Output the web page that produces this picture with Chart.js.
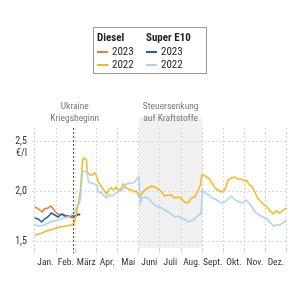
<!DOCTYPE html>
<html>
<head>
<meta charset="utf-8">
<script src="https://cdn.jsdelivr.net/npm/chart.js@4"></script>
<style>
  body { margin: 0; background: #fff; }
  #wrap { position: relative; width: 300px; height: 300px; font-family: "Liberation Sans Narrow", "Roboto Condensed", Roboto, sans-serif; }
  #legend { position: absolute; left: 93px; top: 27px; width: 114px; height: 47px; border: 1px solid #999; box-sizing: border-box; color: #222; font-size: 11px; }
  #legend .col { position: absolute; top: 3px; }
  #legend .head { font-weight: bold; height: 14px; line-height: 14px; }
  #legend .item { height: 13px; line-height: 13px; }
  #legend .swatch { display: inline-block; width: 11px; height: 2px; vertical-align: middle; margin-right: 4px; }
</style>
</head>
<body>
<div id="wrap">
  <canvas id="chart" width="300" height="300"></canvas>
  <div id="legend"></div>
</div>
<script>
// month boundaries (day of year) and labels
const monthStarts = [0, 31, 59, 90, 120, 151, 181, 212, 243, 273, 304, 334, 365];
const monthLabels = ['Jan.', 'Feb.', 'März', 'Apr.', 'Mai', 'Juni', 'Juli', 'Aug.', 'Sept.', 'Okt.', 'Nov.', 'Dez.'];
const yTicks = [1.5, 2.0, 2.5];

// Diesel 2023
const diesel2023Days = [0, 3, 7, 11, 14, 19, 23, 26, 30, 34, 37, 41, 46, 51, 55, 58, 60, 65];
const diesel2023 = [1.84, 1.83, 1.81, 1.79, 1.82, 1.83, 1.85, 1.83, 1.79, 1.77, 1.76, 1.77, 1.75, 1.74, 1.73, 1.74, 1.75, 1.77];

// Diesel 2022
const diesel2022Days = [0, 7, 17, 27, 36, 46, 53, 57, 60, 64, 66, 69, 71, 75, 76, 80, 84, 87, 89, 92, 97, 101, 104, 107, 111, 115, 118, 121, 125, 128, 131, 135, 140, 144, 147, 150, 152, 156, 159, 164, 169, 174, 179, 184, 188, 193, 198, 203, 208, 212, 217, 222, 227, 232, 237, 240, 242, 245, 249, 252, 257, 261, 266, 270, 275, 278, 280, 285, 290, 294, 299, 304, 307, 311, 314, 319, 323, 328, 333, 337, 340, 345, 350, 355, 360, 365];
const diesel2022 = [1.56, 1.57, 1.60, 1.62, 1.64, 1.65, 1.66, 1.68, 1.76, 1.91, 1.99, 2.29, 2.33, 2.31, 2.19, 2.16, 2.16, 2.18, 2.16, 2.09, 2.04, 2.00, 1.97, 2.01, 2.03, 2.01, 2.04, 2.01, 2.02, 2.07, 2.04, 2.02, 2.01, 1.99, 2.00, 1.96, 1.94, 1.98, 2.01, 2.03, 2.05, 2.04, 2.02, 1.99, 1.95, 1.96, 1.96, 1.93, 1.94, 1.93, 1.89, 1.88, 1.93, 1.94, 2.01, 2.06, 2.16, 2.16, 2.14, 2.13, 2.08, 2.03, 2.01, 1.99, 2.01, 2.06, 2.11, 2.13, 2.14, 2.12, 2.12, 2.10, 2.11, 2.06, 2.05, 1.99, 1.93, 1.89, 1.86, 1.84, 1.81, 1.77, 1.80, 1.78, 1.81, 1.83];

// Super E10 2023
const e10_2023Days = [0, 5, 10, 14, 19, 24, 29, 34, 39, 43, 48, 53, 58, 63, 66];
const e10_2023 = [1.73, 1.72, 1.69, 1.72, 1.74, 1.78, 1.76, 1.74, 1.77, 1.75, 1.75, 1.75, 1.75, 1.77, 1.76];

// Super E10 2022
const e10_2022Days = [0, 7, 14, 19, 27, 34, 41, 48, 53, 57, 60, 65, 67, 69, 72, 76, 78, 82, 87, 90, 92, 97, 101, 104, 108, 112, 118, 123, 128, 133, 138, 143, 145, 150, 151, 153, 155, 159, 164, 169, 174, 179, 184, 188, 193, 198, 203, 208, 212, 217, 222, 227, 232, 237, 241, 243, 245, 252, 257, 261, 266, 270, 275, 280, 285, 289, 293, 297, 302, 306, 309, 313, 319, 323, 328, 333, 337, 342, 346, 350, 355, 360, 365];
const e10_2022 = [1.66, 1.65, 1.66, 1.68, 1.70, 1.71, 1.73, 1.74, 1.76, 1.78, 1.83, 1.88, 1.98, 2.19, 2.20, 2.18, 2.09, 2.08, 2.07, 2.06, 1.99, 1.98, 1.95, 1.93, 1.96, 1.95, 1.98, 2.00, 2.02, 2.07, 2.08, 2.08, 2.09, 2.14, 2.10, 1.88, 1.93, 1.94, 1.93, 1.89, 1.86, 1.84, 1.83, 1.81, 1.79, 1.77, 1.74, 1.75, 1.73, 1.72, 1.69, 1.70, 1.72, 1.76, 1.77, 2.01, 1.99, 1.96, 1.93, 1.92, 1.90, 1.88, 1.89, 1.92, 1.95, 1.92, 1.90, 1.89, 1.88, 1.91, 1.89, 1.86, 1.79, 1.77, 1.75, 1.73, 1.72, 1.68, 1.65, 1.66, 1.66, 1.68, 1.71];

const warDay = 55;
const taxCutStart = 151, taxCutEnd = 243;

const colors = { d23: '#ee7d22', d22: '#f7b918', e23: '#1f62ad', e22: '#a9d1f5' };
const font = '"Liberation Sans Narrow", "Roboto Condensed", Roboto, sans-serif';

function pts(days, vals) {
  return days.map((d, i) => ({ x: d, y: vals[i] }));
}

const midMonths = monthStarts.slice(0, 12).map((s, i) => (s + monthStarts[i + 1]) / 2);

// legend
document.getElementById('legend').innerHTML =
  `<div class="col" style="left:3px"><div class="head">Diesel</div>
     <div class="item"><span class="swatch" style="background:${colors.d23}"></span>2023</div>
     <div class="item"><span class="swatch" style="background:${colors.d22}"></span>2022</div></div>
   <div class="col" style="left:52px"><div class="head">Super E10</div>
     <div class="item"><span class="swatch" style="background:${colors.e23}"></span>2023</div>
     <div class="item"><span class="swatch" style="background:${colors.e22}"></span>2022</div></div>`;

const extras = {
  id: 'extras',
  beforeDraw(chart) {
    const { ctx, chartArea, scales: { x } } = chart;
    const x0 = x.getPixelForValue(taxCutStart), x1 = x.getPixelForValue(taxCutEnd);
    ctx.save();
    ctx.fillStyle = '#f0f0f0';
    ctx.fillRect(x0, chartArea.top - 11, x1 - x0, chartArea.bottom - chartArea.top + 11);
    ctx.restore();
  },
  afterDatasetsDraw(chart) {
    const { ctx, chartArea, scales: { x, y } } = chart;
    const wx = x.getPixelForValue(warDay);
    ctx.save();
    ctx.strokeStyle = '#555';
    ctx.lineWidth = 1;
    ctx.setLineDash([2, 2]);
    ctx.beginPath();
    ctx.moveTo(Math.round(wx) + 0.5, chartArea.top);
    ctx.lineTo(Math.round(wx) + 0.5, chartArea.bottom + 5);
    ctx.stroke();
    ctx.setLineDash([]);
    ctx.fillStyle = '#777';
    ctx.font = '9.5px ' + font;
    ctx.textAlign = 'center';
    ctx.textBaseline = 'middle';
    ctx.fillText('Ukraine', wx + 2, 107);
    ctx.fillText('Kriegsbeginn', wx + 2, 119);
    const sx = (x.getPixelForValue(taxCutStart) + x.getPixelForValue(taxCutEnd)) / 2;
    ctx.fillText('Steuersenkung', sx, 107);
    ctx.fillText('auf Kraftstoffe', sx, 119);
    // unit under the top tick
    ctx.font = '10px ' + font;
    ctx.fillStyle = '#333';
    ctx.textAlign = 'right';
    ctx.fillText('€/l', 27, y.getPixelForValue(2.5) + 12);
    ctx.restore();
  }
};

const line = (label, data, color) => ({
  label, data, borderColor: color, borderWidth: 1.5, pointRadius: 0, tension: 0, fill: false
});

new Chart(document.getElementById('chart'), {
  type: 'line',
  data: {
    datasets: [
      line('Super E10 2022', pts(e10_2022Days, e10_2022), colors.e22),
      line('Diesel 2022', pts(diesel2022Days, diesel2022), colors.d22),
      line('Super E10 2023', pts(e10_2023Days, e10_2023), colors.e23),
      line('Diesel 2023', pts(diesel2023Days, diesel2023), colors.d23)
    ]
  },
  options: {
    responsive: false,
    animation: false,
    layout: { padding: { top: 128, right: 12, left: 0, bottom: 0 } },
    plugins: { legend: { display: false }, tooltip: { enabled: false } },
    scales: {
      x: {
        type: 'linear', min: -4, max: 367,
        afterBuildTicks: s => { s.ticks = monthStarts.concat(midMonths).sort((a, b) => a - b).map(v => ({ value: v })); },
        afterFit: s => { s.height = 52; },
        grid: {
          color: c => monthStarts.includes(c.tick && c.tick.value) ? '#d8d8d8' : 'rgba(0,0,0,0)',
          tickLength: 5
        },
        border: { display: false, dash: [2, 2] },
        ticks: {
          autoSkip: false, maxRotation: 0, padding: 4, color: '#333',
          font: { family: font, size: 9.5 },
          callback: v => { const i = midMonths.indexOf(v); return i >= 0 ? monthLabels[i] : ''; }
        }
      },
      y: {
        min: 1.43, max: 2.63,
        afterBuildTicks: s => { s.ticks = yTicks.map(v => ({ value: v })); },
        afterFit: s => { s.width = 32; },
        grid: { color: '#d8d8d8', drawTicks: false },
        border: { display: false, dash: [2, 2] },
        ticks: {
          padding: 5, color: '#333',
          font: { family: font, size: 10 },
          callback: v => v.toFixed(1).replace('.', ',')
        }
      }
    }
  },
  plugins: [extras]
});
</script>
</body>
</html>
